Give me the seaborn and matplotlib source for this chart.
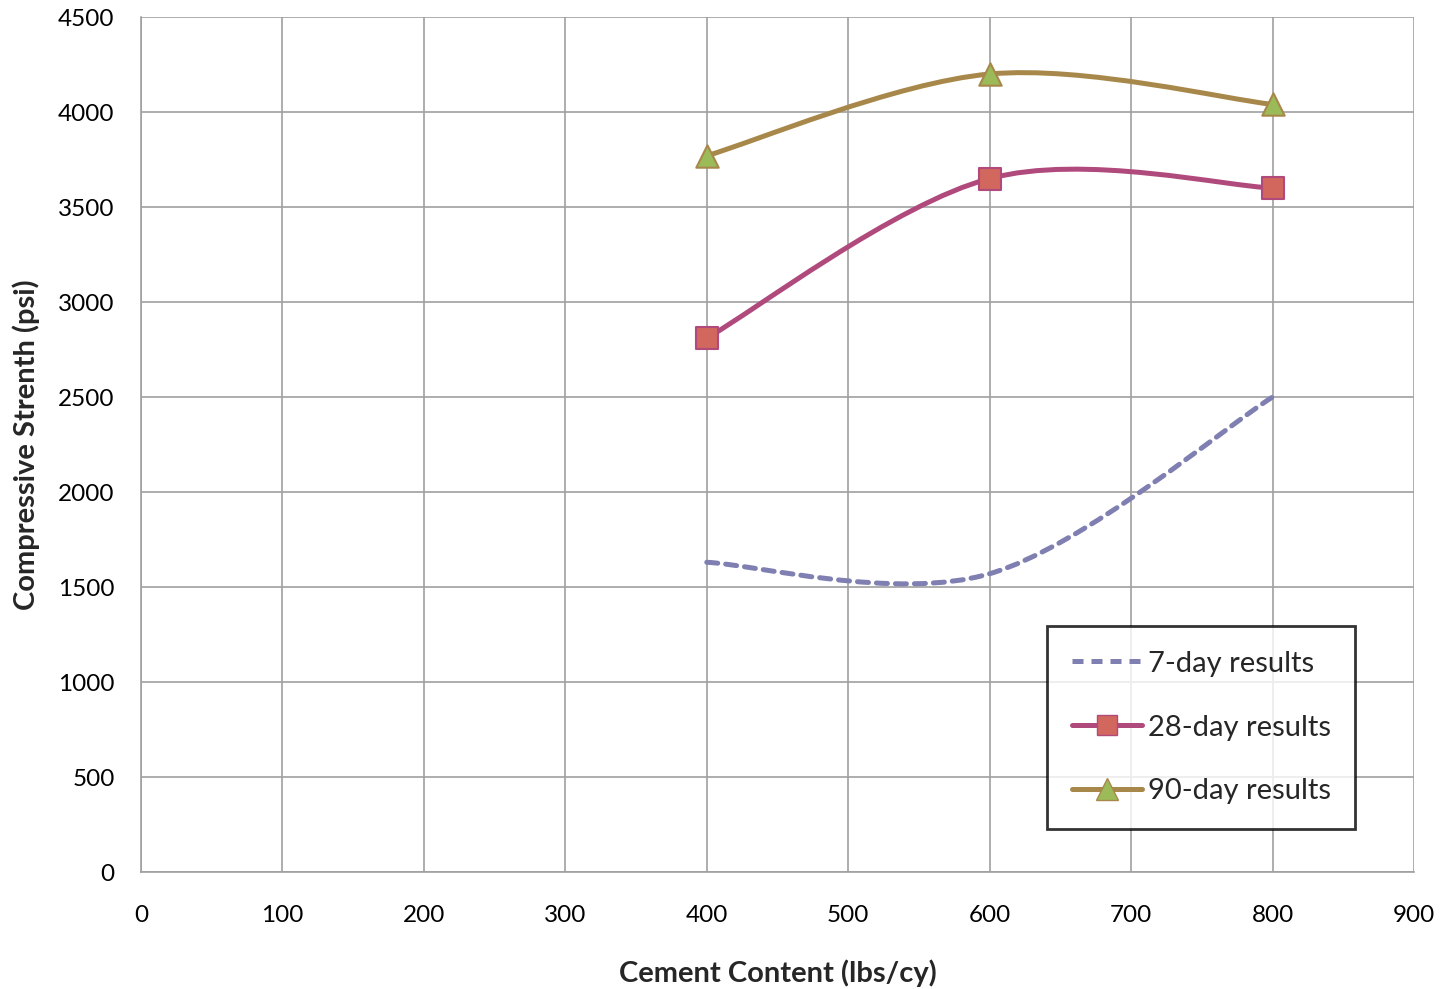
import numpy as np
import matplotlib
matplotlib.use("Agg")
import matplotlib.pyplot as plt
import seaborn as sns
from matplotlib.path import Path
from matplotlib.patches import PathPatch
from matplotlib.lines import Line2D

# data
cement = [400, 600, 800]
day7 = [1630, 1570, 2500]
day28 = [2810, 3650, 3600]
day90 = [3770, 4200, 4040]

series_names = ["7-day results", "28-day results", "90-day results"]
line_colors = ["#7f7fb2", "#b04a7c", "#a8884a"]
marker_fill = [None, "#d2675e", "#9bbb59"]
marker_edge = [None, "#b04a7c", "#a8884a"]
marker_shape = [None, "s", "^"]

sns.set_style("white")
plt.rcParams["font.family"] = ["Lato", "DejaVu Sans"]

fig = plt.figure(figsize=(14.41, 9.89), dpi=100)
ax = fig.add_axes([0.0978, 0.1183, 0.8835, 0.8645])


def smooth_path(xs, ys):
    # Excel style smoothed line: cubic bezier through each point
    pts = np.column_stack([xs, ys]).astype(float)
    n = len(pts)
    verts = [pts[0]]
    codes = [Path.MOVETO]
    for i in range(n - 1):
        p0 = pts[max(i - 1, 0)]
        p1 = pts[i]
        p2 = pts[i + 1]
        p3 = pts[min(i + 2, n - 1)]
        c1 = p1 + (p2 - p0) / 6.0
        c2 = p2 - (p3 - p1) / 6.0
        verts += [c1, c2, p2]
        codes += [Path.CURVE4] * 3
    return Path(verts, codes)


all_series = [day7, day28, day90]
for i, vals in enumerate(all_series):
    ls = (0, (2.2, 1.6)) if i == 0 else "-"
    patch = PathPatch(smooth_path(cement, vals), facecolor="none",
                      edgecolor=line_colors[i], lw=3.6, linestyle=ls,
                      capstyle="round", zorder=3)
    ax.add_patch(patch)
    if marker_shape[i] is not None:
        sns.scatterplot(x=cement, y=vals, marker=marker_shape[i], s=260,
                        color=marker_fill[i], edgecolor=marker_edge[i],
                        linewidth=1.5, ax=ax, zorder=4)

ax.set_xlim(0, 900)
ax.set_ylim(0, 4500)
ax.set_xticks(range(0, 901, 100))
ax.set_yticks(range(0, 4501, 500))
ax.grid(True, color="#a0a0a0", lw=1.2)
ax.set_axisbelow(True)
for side in ["top", "right"]:
    ax.spines[side].set_visible(False)
for side in ["left", "bottom"]:
    ax.spines[side].set_color("#a0a0a0")
    ax.spines[side].set_linewidth(1.2)
ax.tick_params(axis="both", direction="out", length=5, width=1.2,
               color="#a0a0a0", labelsize=17.5, labelcolor="black")
ax.tick_params(axis="x", pad=19)
ax.tick_params(axis="y", pad=14)

ax.set_xlabel("Cement Content (lbs/cy)", fontsize=21, fontweight="bold",
              labelpad=24)
ax.set_ylabel("Compressive Strenth (psi)", fontsize=21, fontweight="bold",
              labelpad=13)

handles = [
    Line2D([], [], color=line_colors[0], lw=3.6, linestyle=(0, (2.2, 1.6))),
    Line2D([], [], color=line_colors[1], lw=3.6, marker="s", markersize=15,
           markerfacecolor=marker_fill[1], markeredgecolor=marker_edge[1]),
    Line2D([], [], color=line_colors[2], lw=3.6, marker="^", markersize=16,
           markerfacecolor=marker_fill[2], markeredgecolor=marker_edge[2]),
]
leg = ax.legend(handles, series_names, loc="lower right",
                bbox_to_anchor=(0.954, 0.05), fontsize=21, frameon=True,
                fancybox=False, edgecolor="black", handlelength=2.4,
                handletextpad=0.2, labelspacing=1.3, borderpad=0.85,
                borderaxespad=0)
leg.get_frame().set_linewidth(2)

fig.savefig("out.png", dpi=100)
